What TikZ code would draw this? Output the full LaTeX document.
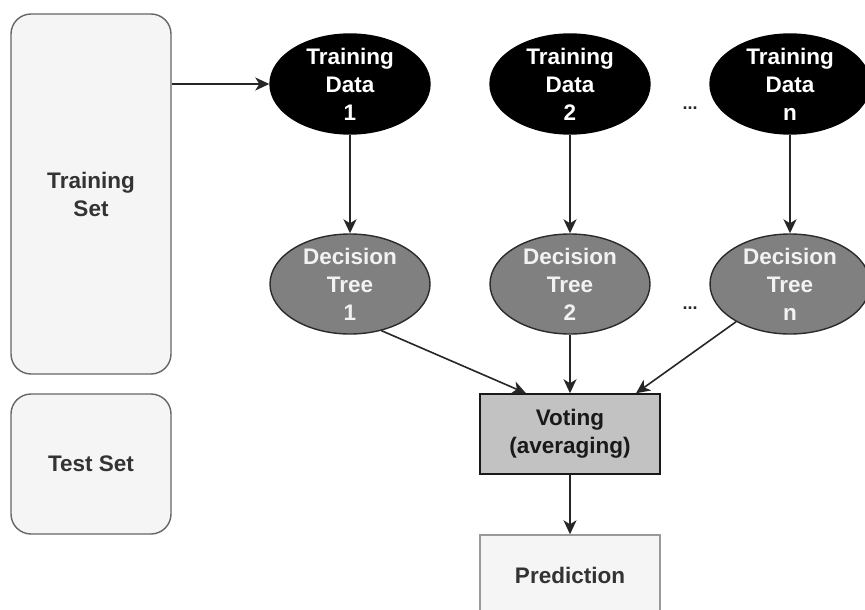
\documentclass[tikz,border=0pt]{standalone}
\usepackage{fontspec}
\setmainfont{Liberation Sans}
\usetikzlibrary{shapes.geometric,arrows.meta}
\definecolor{boxfill}{HTML}{F5F5F5}
\definecolor{setdraw}{HTML}{666666}
\definecolor{settext}{HTML}{333333}
\definecolor{treefill}{HTML}{808080}
\definecolor{treedraw}{HTML}{2B2B2B}
\definecolor{treetext}{HTML}{F2F2F2}
\definecolor{votefill}{HTML}{C2C2C2}
\definecolor{preddraw}{HTML}{999999}
\begin{document}
\begin{tikzpicture}[x=1pt,y=-1pt,
  lbl/.style={font=\fontsize{22.5}{28}\selectfont\bfseries, align=center},
  setbox/.style={lbl, rectangle, draw=setdraw, fill=boxfill, rounded corners=20pt,
    line width=1.4pt, minimum width=160pt, text=settext, inner sep=0pt},
  data/.style={lbl, ellipse, draw=black, fill=black, text=white,
    minimum width=160pt, minimum height=100pt, inner sep=-2pt, line width=1.4pt},
  tree/.style={lbl, ellipse, draw=treedraw, fill=treefill, text=treetext,
    minimum width=160pt, minimum height=100pt, inner sep=-2pt, line width=1.4pt},
  vote/.style={lbl, rectangle, draw=black!90, fill=votefill, text=black!90,
    minimum width=180pt, minimum height=80pt, line width=1.5pt, inner sep=0pt},
  pred/.style={lbl, rectangle, draw=preddraw, fill=boxfill, text=settext,
    minimum width=180pt, minimum height=80pt, line width=1.4pt, inner sep=0pt},
  dots/.style={font=\fontsize{18}{18}\selectfont\bfseries, text=black!85},
  arr/.style={-{Stealth[length=14pt,width=13pt,inset=4pt]}, line width=1.6pt, draw=black!85}
]
\useasboundingbox (0,0) rectangle (865,610);
\clip (0,0) rectangle (865,610);
\fill[white] (0,0) rectangle (865,610);

\node[setbox, minimum height=360pt] (tset) at (91,194) {Training\\Set};
\node[setbox, minimum height=140pt] (test) at (91,464) {Test Set};

\node[data] (td1) at (350,84) {Training\\Data\\1};
\node[data] (td2) at (570,84) {Training\\Data\\2};
\node[data] (tdn) at (790,84) {Training\\Data\\n};

\node[tree] (dt1) at (350,284) {Decision\\Tree\\1};
\node[tree] (dt2) at (570,284) {Decision\\Tree\\2};
\node[tree] (dtn) at (790,284) {Decision\\Tree\\n};

\node[dots] (dotsa) at (690,108) {...};
\node[dots] (dotsb) at (690,308) {...};

\node[vote] (vote) at (570,434) {Voting\\(averaging)};
\node[pred] (pred) at (570,575) {Prediction};

\draw[arr] (td1.west -| tset.east) -- (td1.west);
\draw[arr] (td1) -- (dt1);
\draw[arr] (td2) -- (dt2);
\draw[arr] (tdn) -- (dtn);
\draw[arr] (dt1.-56) -- ([xshift=-44pt]vote.north);
\draw[arr] (dt2) -- (vote);
\draw[arr] (dtn.215) -- ([xshift=66pt]vote.north);
\draw[arr] (vote) -- (pred);
\end{tikzpicture}
\end{document}
